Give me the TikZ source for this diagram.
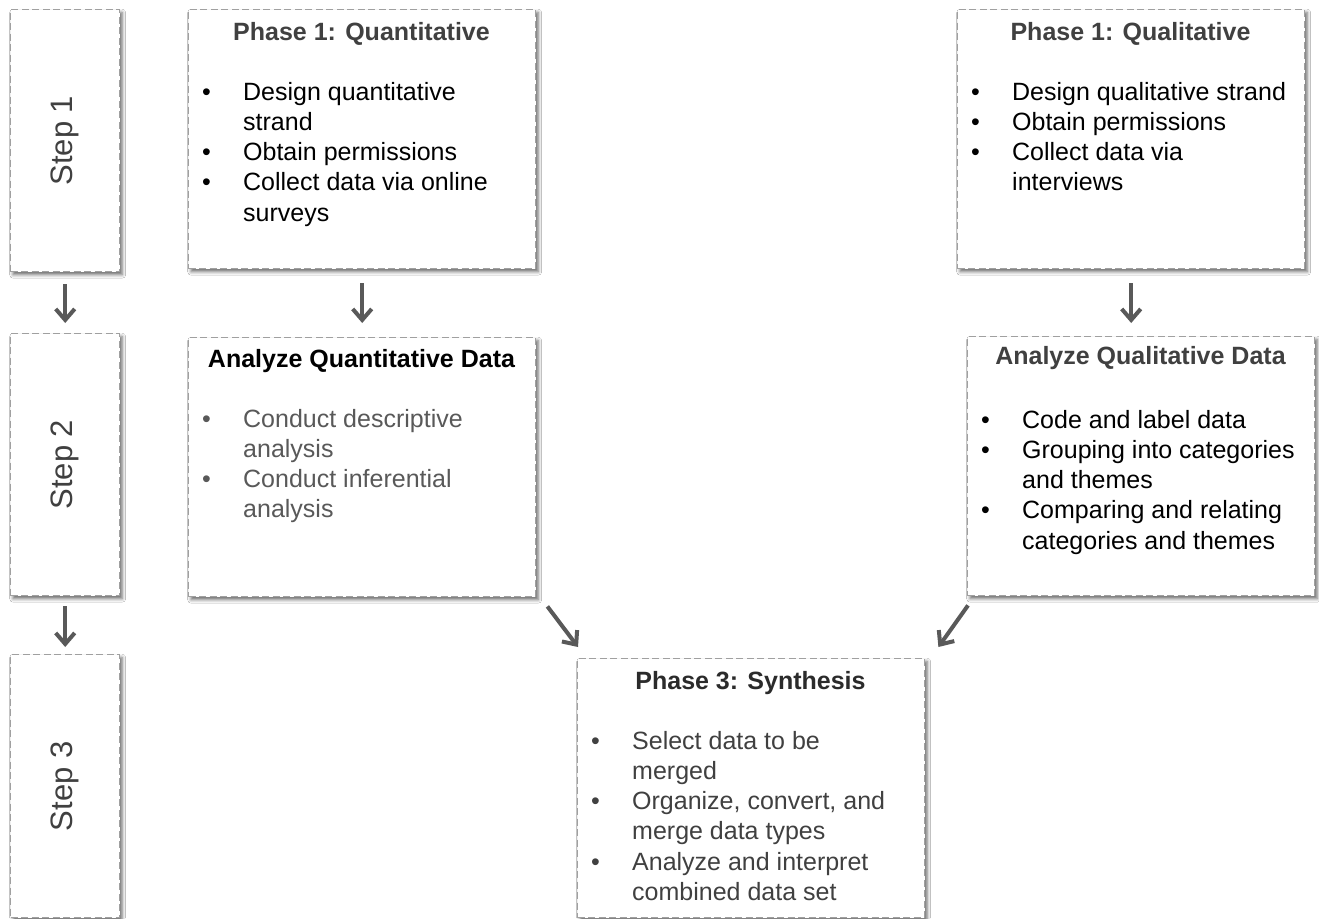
\documentclass[tikz,border=0pt]{standalone}
\usepackage{fontspec}
\setmainfont{Liberation Sans}
\usetikzlibrary{arrows.meta,shadows.blur}
\definecolor{framegray}{HTML}{A0A0A0}
\definecolor{arrowgray}{HTML}{595959}
\definecolor{textdark}{HTML}{404040}
\definecolor{textdeep}{HTML}{2B2B2B}
\definecolor{textmid}{HTML}{595959}
\newcommand{\bodyfont}{\fontsize{25}{30.3}\selectfont}
\newcommand{\headfont}{\fontsize{25}{30}\selectfont\bfseries}
\newcommand{\bl}{\makebox[41pt][l]{\textbullet}}

\begin{document}
\begin{tikzpicture}[x=1pt,y=-1pt,
  panel/.style={draw=framegray, line width=1.4pt, dash pattern=on 7pt off 3.5pt,
    fill=white, anchor=north west, inner sep=0pt,
    minimum width=347pt, minimum height=259pt,
    blur shadow={shadow xshift=2.5pt, shadow yshift=-3pt,
      shadow blur radius=3.5pt, shadow opacity=60}},
  steppanel/.style={panel, minimum width=109pt, minimum height=262pt},
  steplabel/.style={rotate=90, inner sep=0pt, font=\fontsize{31}{36}\selectfont, text=textdark},
  heading/.style={anchor=base, inner sep=0pt, font=\headfont},
  bullets/.style={anchor=base west, inner sep=0pt, font=\bodyfont},
  flow/.style={draw=arrowgray, line width=4pt,
    -{Straight Barb[length=11pt,width=19pt,line width=4pt]}}
]
\fill[white] (0,0) rectangle (1319,918);
\useasboundingbox (0,0) rectangle (1319,918);

% step column
\node[steppanel] (step1) at (10,9) {};
\node[steppanel] (step2) at (10,333) {};
\node[steppanel, minimum height=263pt] (step3) at (10,654) {};
\node[steplabel] (step1lbl) at (step1.center) {Step 1};
\node[steplabel] (step2lbl) at (step2.center) {Step 2};
\node[steplabel] (step3lbl) at (step3.center) {Step 3};

% phase panels
\node[panel] (q1) at (188,9) {};
\node[panel] (aq) at (188,337) {};
\node[panel] (l1) at (957,9) {};
\node[panel] (al) at (967,336) {};
\node[panel] (p3) at (577,658) {};

% quantitative strand
\node[heading, text=textdark] (q1head) at (361.5,40) {Phase 1: Quantitative};
\node[bullets] (q1list) at (202,100) {\begin{tabular}[t]{@{}l@{}l@{}}
  \bl & Design quantitative\\
      & strand\\
  \bl & Obtain permissions\\
  \bl & Collect data via online\\
      & surveys
\end{tabular}};

\node[heading, text=black] (aqhead) at (361.5,367) {Analyze Quantitative Data};
\node[bullets, text=textmid] (aqlist) at (202,427) {\begin{tabular}[t]{@{}l@{}l@{}}
  \bl & Conduct descriptive\\
      & analysis\\
  \bl & Conduct inferential\\
      & analysis
\end{tabular}};

% qualitative strand
\node[heading, text=textdark] (l1head) at (1130.5,40) {Phase 1: Qualitative};
\node[bullets] (l1list) at (971,100) {\begin{tabular}[t]{@{}l@{}l@{}}
  \bl & Design qualitative strand\\
  \bl & Obtain permissions\\
  \bl & Collect data via\\
      & interviews
\end{tabular}};

\node[heading, text=textdark] (alhead) at (1140.5,364) {Analyze Qualitative Data};
\node[bullets] (allist) at (981,428) {\begin{tabular}[t]{@{}l@{}l@{}}
  \bl & Code and label data\\
  \bl & Grouping into categories\\
      & and themes\\
  \bl & Comparing and relating\\
      & categories and themes
\end{tabular}};

% synthesis
\node[heading, text=textdeep] (p3head) at (750.5,689) {Phase 3: Synthesis};
\node[bullets, text=textdark] (p3list) at (591,749) {\begin{tabular}[t]{@{}l@{}l@{}}
  \bl & Select data to be\\
      & merged\\
  \bl & Organize, convert, and\\
      & merge data types\\
  \bl & Analyze and interpret\\
      & combined data set
\end{tabular}};

% connectors
\draw[flow] ([yshift=-12pt]step1.south) -- ([yshift=10pt]step2.north);
\draw[flow] ([yshift=-10pt]step2.south) -- ([yshift=7pt]step3.north);
\draw[flow] ([yshift=-14pt]q1.south) -- ([yshift=14pt]aq.north);
\draw[flow] ([yshift=-14pt]l1.south) -- ([yshift=13pt]l1.south |- al.north);
\draw[flow] ([xshift=11pt,yshift=-9pt]aq.south east) -- ([xshift=1pt,yshift=11pt]p3.north west);
\draw[flow] ([xshift=1pt,yshift=-9pt]al.south west) -- ([xshift=13pt,yshift=11pt]p3.north east);
\end{tikzpicture}
\end{document}
